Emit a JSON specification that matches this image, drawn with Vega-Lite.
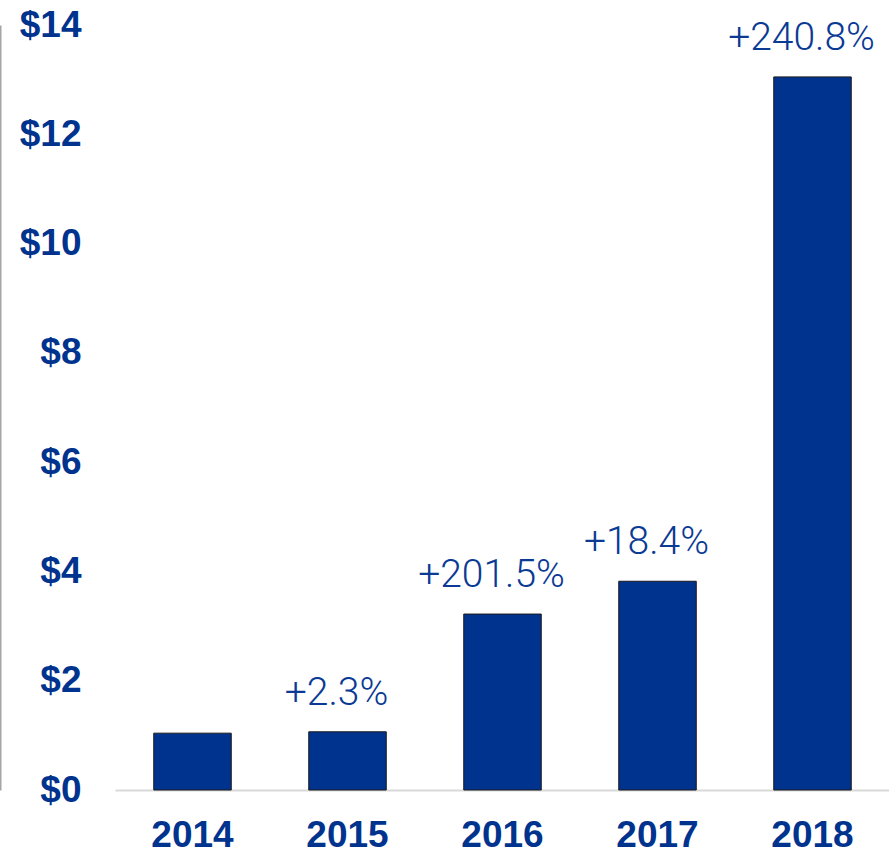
{
  "$schema": "https://vega.github.io/schema/vega-lite/v6.json",
  "autosize": "none",
  "padding": {"left": 115, "top": 25, "right": 0, "bottom": 65},
  "width": 775,
  "height": 765,
  "background": "white",
  "config": {"view": {"stroke": null}, "font": "Liberation Sans"},
  "data": {"values": [
    {"year": "2014", "value": 1.04, "label": ""},
    {"year": "2015", "value": 1.065, "label": "+2.3%"},
    {"year": "2016", "value": 3.22, "label": "+201.5%"},
    {"year": "2017", "value": 3.82, "label": "+18.4%"},
    {"year": "2018", "value": 13.05, "label": "+240.8%"}
  ]},
  "encoding": {
    "x": {"field": "year", "type": "ordinal", "title": null,
      "scale": {"paddingInner": 0.5, "paddingOuter": 0.25},
      "axis": {"labelAngle": 0, "labelFont": "Liberation Sans", "labelFontWeight": "bold", "labelFontSize": 37, "labelColor": "#00338D", "ticks": false, "labelPadding": 27, "domainColor": "#D9D9D9", "domainWidth": 2}},
    "y": {"field": "value", "type": "quantitative", "title": null,
      "scale": {"domain": [0, 14], "nice": false},
      "axis": {"values": [0, 2, 4, 6, 8, 10, 12, 14], "labelExpr": "'$' + datum.value", "grid": false, "ticks": false, "offset": 115, "domainColor": "#A6A6A6", "domainWidth": 2, "labelAlign": "right", "labelPadding": -81, "labelFont": "Liberation Sans", "labelFontWeight": "bold", "labelFontSize": 37, "labelColor": "#00338D", "labelBaseline": "middle"}}
  },
  "layer": [
    {"mark": {"type": "bar", "color": "#00338D", "stroke": "#1a1a1a", "strokeWidth": 1}},
    {"mark": {"type": "text", "baseline": "alphabetic", "dy": -27, "dx": -11, "fontSize": 39, "font": "Roboto", "fontWeight": 300, "color": "#0A3A94"},
     "encoding": {"text": {"field": "label"}}}
  ]
}
